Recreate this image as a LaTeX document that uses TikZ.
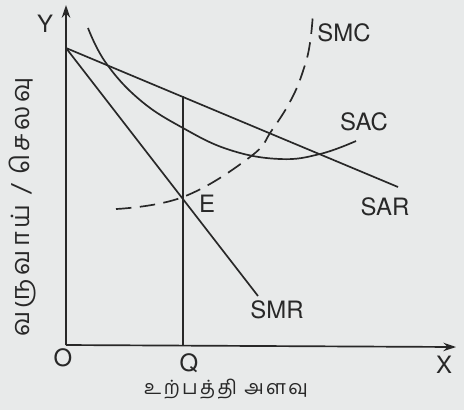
\documentclass[tikz,border=0pt]{standalone}
\usepackage{fontspec}
\setsansfont{TeX Gyre Heros}
\newfontfamily\tamilwide[Script=Tamil,LetterSpace=12]{Hind Madurai}
\newfontfamily\tamilwider[Script=Tamil,LetterSpace=14]{Hind Madurai}
\usetikzlibrary{arrows.meta}

\tikzset{
  >={Stealth[length=9pt,width=6pt]}   % arrow tips
}
\definecolor{paper}{RGB}{232,234,234}
\definecolor{ink}{RGB}{40,40,40}

\begin{document}
\begin{tikzpicture}[x=0.025cm,y=-0.025cm,line width=1.2pt,ink,
	lbl/.style={font=\sffamily\fontsize{17}{20}\selectfont,inner sep=1pt},
	tlbl/.style={font=\tamilwide\fontsize{14}{16}\selectfont,inner sep=1pt}]
	% background
	\fill[paper] (0,0) rectangle (464,410);
	\useasboundingbox (0,0) rectangle (464,410);

	\coordinate (O) at (66,345);
	\coordinate (ytop) at (66,5);
	\coordinate (xend) at (456,347);
	\coordinate (A) at (66,48);
	\coordinate (Qb) at (183,345);
	\coordinate (Qt) at (183,96);
	\coordinate (sarend) at (398,187);
	\coordinate (smrend) at (258,296);

	% axis
	\draw[->] (O) -- (ytop);
	\draw[->] (O) -- (xend);
	\node[lbl] (ylab) at (45,24) {Y};
	\node[lbl] (xlab) at (444,365) {X};
	\node[lbl] (olab) at (63,358) {O};
	\node[lbl] (qlab) at (189,363) {Q};
	\node[tlbl] (xname) at (226,389) {உற்பத்தி அளவு};
	\node[tlbl,font=\tamilwider\fontsize{18}{20}\selectfont,rotate=90] (yname) at (23,207) {வருவாய் / செலவு};

	% Q line
	\draw (Qb) -- (Qt);
	% SAR and SMR
	\draw (A) -- (sarend);
	\draw (A) -- (smrend);
	\node[lbl] (sar) at (385,207) {SAR};
	\node[lbl] (smr) at (277,310) {SMR};

	% SAC
	\draw plot[smooth,tension=0.7] coordinates
			{(88,28) (106,63) (140,100) (183,128) (230,150) (280,159) (320,154) (356,141)};
	\node[lbl] (sac) at (364,122) {SAC};

	% SMC
	\draw[dash pattern=on 11pt off 6pt] plot[smooth,tension=0.7] coordinates
			{(116,209) (183,197) (250,157) (272,130) (292,98) (304,68) (310,43) (313,13)};
	\node[lbl] (smc) at (344,33) {SMC};
	\node[lbl] (e) at (207,204) {E};
\end{tikzpicture}
\end{document}
